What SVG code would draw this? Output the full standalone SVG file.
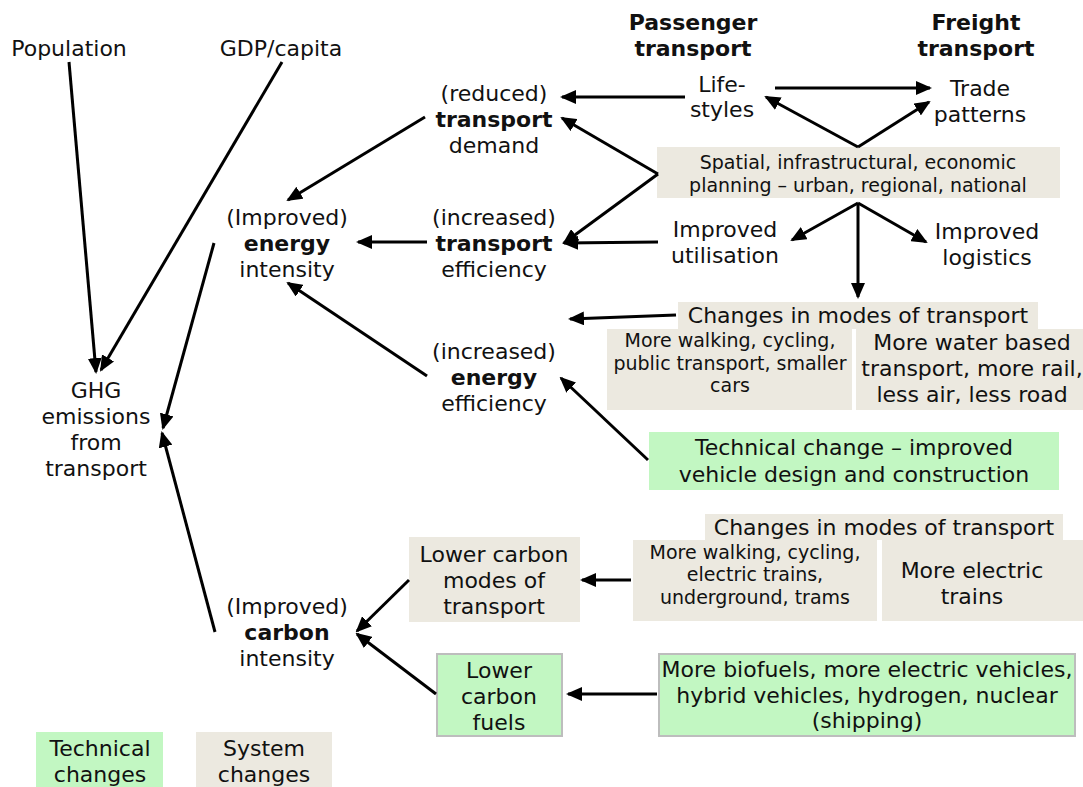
<svg xmlns="http://www.w3.org/2000/svg" width="1083" height="787" viewBox="0 0 1083 787">
<style>
text{font-family:"DejaVu Sans",Verdana,sans-serif;font-size:22px;fill:#111;text-anchor:middle}
.b{font-weight:bold}
.s{font-size:19px}
.sys{fill:#ECE9E0}
.tec{fill:#C2F7C2}
.tecb{fill:#C2F7C2;stroke:#BDBDBD;stroke-width:2}
.c line{stroke:#000;stroke-width:3;marker-end:url(#ah)}
</style>
<defs>
<marker id="ah" viewBox="0 0 16 14" refX="14" refY="7" markerWidth="16" markerHeight="14" markerUnits="userSpaceOnUse" orient="auto">
<path d="M0,0 L16,7 L0,14 Z" fill="#000"/>
</marker>
</defs>
<rect width="1083" height="787" fill="#fff"/>

<g id="population"><text x="69" y="56">Population</text></g>
<g id="gdp"><text x="281" y="56">GDP/capita</text></g>
<g id="hdr-passenger"><text class="b" x="693" y="30">Passenger</text><text class="b" x="693" y="56">transport</text></g>
<g id="hdr-freight"><text class="b" x="976" y="30">Freight</text><text class="b" x="976" y="56">transport</text></g>
<g id="lifestyles"><text x="722" y="92">Life-</text><text x="722" y="117">styles</text></g>
<g id="trade"><text x="980" y="96">Trade</text><text x="980" y="122">patterns</text></g>
<g id="spatial"><rect class="sys" x="657" y="147" width="403" height="51"/><text class="s" x="858" y="169">Spatial, infrastructural, economic</text><text class="s" x="858" y="192">planning – urban, regional, national</text></g>
<g id="demand"><text x="494" y="101">(reduced)</text><text class="b" x="494" y="127">transport</text><text x="494" y="153">demand</text></g>
<g id="energy-intensity"><text x="287" y="225">(Improved)</text><text class="b" x="287" y="251">energy</text><text x="287" y="277">intensity</text></g>
<g id="transport-eff"><text x="494" y="225">(increased)</text><text class="b" x="494" y="251">transport</text><text x="494" y="277">efficiency</text></g>
<g id="utilisation"><text x="725" y="237">Improved</text><text x="725" y="263">utilisation</text></g>
<g id="logistics"><text x="987" y="239">Improved</text><text x="987" y="265">logistics</text></g>
<g id="modes1"><rect class="sys" x="678" y="302" width="360" height="27"/><text x="858" y="323">Changes in modes of transport</text></g>
<g id="modes1-pass"><rect class="sys" x="607" y="329" width="245" height="81"/><text class="s" x="730" y="347">More walking, cycling,</text><text class="s" x="730" y="370">public transport, smaller</text><text class="s" x="730" y="392">cars</text></g>
<g id="modes1-freight"><rect class="sys" x="856" y="329" width="227" height="81"/><text x="972" y="350">More water based</text><text x="972" y="376">transport, more rail,</text><text x="972" y="402">less air, less road</text></g>
<g id="energy-eff"><text x="494" y="359">(increased)</text><text class="b" x="494" y="385">energy</text><text x="494" y="411">efficiency</text></g>
<g id="technical"><rect class="tec" x="649" y="432" width="410" height="58"/><text x="854" y="455">Technical change – improved</text><text x="854" y="482">vehicle design and construction</text></g>
<g id="ghg"><text x="96" y="398">GHG</text><text x="96" y="424">emissions</text><text x="96" y="450">from</text><text x="96" y="476">transport</text></g>
<g id="modes2"><rect class="sys" x="705" y="514" width="358" height="26"/><text x="884" y="535">Changes in modes of transport</text></g>
<g id="modes2-pass"><rect class="sys" x="633" y="540" width="244" height="81"/><text class="s" x="755" y="559">More walking, cycling,</text><text class="s" x="755" y="581">electric trains,</text><text class="s" x="755" y="604">underground, trams</text></g>
<g id="modes2-freight"><rect class="sys" x="882" y="540" width="201" height="81"/><text x="972" y="578">More electric</text><text x="972" y="604">trains</text></g>
<g id="lowc-modes"><rect class="sys" x="409" y="537" width="171" height="85"/><text x="494" y="562">Lower carbon</text><text x="494" y="588">modes of</text><text x="494" y="614">transport</text></g>
<g id="carbon-intensity"><text x="287" y="614">(Improved)</text><text class="b" x="287" y="640">carbon</text><text x="287" y="666">intensity</text></g>
<g id="lowc-fuels"><rect class="tecb" x="437" y="654" width="125" height="82"/><text x="499" y="678">Lower</text><text x="499" y="704">carbon</text><text x="499" y="730">fuels</text></g>
<g id="biofuels"><rect class="tecb" x="659" y="654" width="416" height="82"/><text x="867" y="677">More biofuels, more electric vehicles,</text><text x="867" y="703">hybrid vehicles, hydrogen, nuclear</text><text x="867" y="728">(shipping)</text></g>
<g id="legend-tech"><rect class="tec" x="36" y="732" width="127" height="55"/><text x="100" y="756">Technical</text><text x="100" y="782">changes</text></g>
<g id="legend-sys"><rect class="sys" x="196" y="732" width="136" height="55"/><text x="264" y="756">System</text><text x="264" y="782">changes</text></g>

<g id="connectors" class="c">
<line x1="69" y1="62" x2="96" y2="372"/>
<line x1="282" y1="62" x2="101" y2="370"/>
<line x1="214" y1="243" x2="163" y2="428"/>
<line x1="215" y1="632" x2="162" y2="433"/>
<line x1="425" y1="117" x2="288" y2="200"/>
<line x1="427" y1="242" x2="358" y2="242"/>
<line x1="427" y1="376" x2="288" y2="283"/>
<line x1="685" y1="97" x2="562" y2="97"/>
<line x1="658" y1="174" x2="562" y2="118"/>
<line x1="658" y1="174" x2="564" y2="243"/>
<line x1="658" y1="242" x2="564" y2="243"/>
<line x1="775" y1="88" x2="930" y2="88"/>
<line x1="858" y1="147" x2="766" y2="97"/>
<line x1="858" y1="147" x2="929" y2="102"/>
<line x1="858" y1="203" x2="792" y2="240"/>
<line x1="858" y1="203" x2="926" y2="242"/>
<line x1="858" y1="203" x2="858" y2="297"/>
<line x1="676" y1="315" x2="570" y2="319"/>
<line x1="648" y1="460" x2="561" y2="378"/>
<line x1="409" y1="580" x2="357" y2="631"/>
<line x1="436" y1="694" x2="357" y2="634"/>
<line x1="631" y1="580" x2="582" y2="580"/>
<line x1="657" y1="694" x2="568" y2="694"/>
</g>
</svg>
